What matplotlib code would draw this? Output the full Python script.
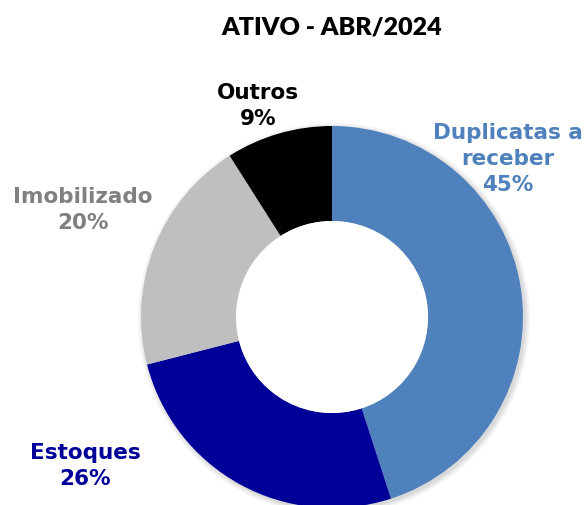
import matplotlib.pyplot as plt

categorias = ["Duplicatas a\nreceber", "Estoques", "Imobilizado", "Outros"]
percentuais = [45, 26, 20, 9]
cores = ["#4F81BD", "#000099", "#BFBFBF", "#000000"]
cores_texto = ["#4F81BD", "#000099", "#808080", "#000000"]

# posicoes dos rotulos (px da figura)
pos_rotulos = [(508, 159), (85, 466), (83, 210), (258, 106)]

fig = plt.figure(figsize=(5.85, 5.05), dpi=100)
ax = fig.add_axes([0, 0, 1, 1])

# sombra leve atras do anel
for r, a in [(196, 0.04), (194, 0.05), (192, 0.06)]:
    ax.add_patch(plt.Circle((334, 186), r, color="black", alpha=a, lw=0))

ax.pie(percentuais, colors=cores, startangle=90, counterclock=False,
       center=(332, 188), radius=191, frame=True,
       wedgeprops=dict(width=95, linewidth=0))
ax.add_patch(plt.Circle((332, 188), 96, color="white", lw=0))
ax.set_xlim(0, 585)
ax.set_ylim(0, 505)
ax.set_aspect("equal")
ax.axis("off")

for nome, pct, cor, (x, y) in zip(categorias, percentuais, cores_texto, pos_rotulos):
    ax.text(x, 505 - y, f"{nome}\n{pct}%", color=cor, fontsize=15.5,
            fontweight="bold", ha="center", va="center", linespacing=1.4,
            family="DejaVu Sans")

fig.text(332 / 585, 1 - 28 / 505, "ATIVO - ABR/2024", fontsize=18,
         fontweight="heavy", ha="center", va="center", family="Lato")

fig.savefig("out.png", dpi=100)
